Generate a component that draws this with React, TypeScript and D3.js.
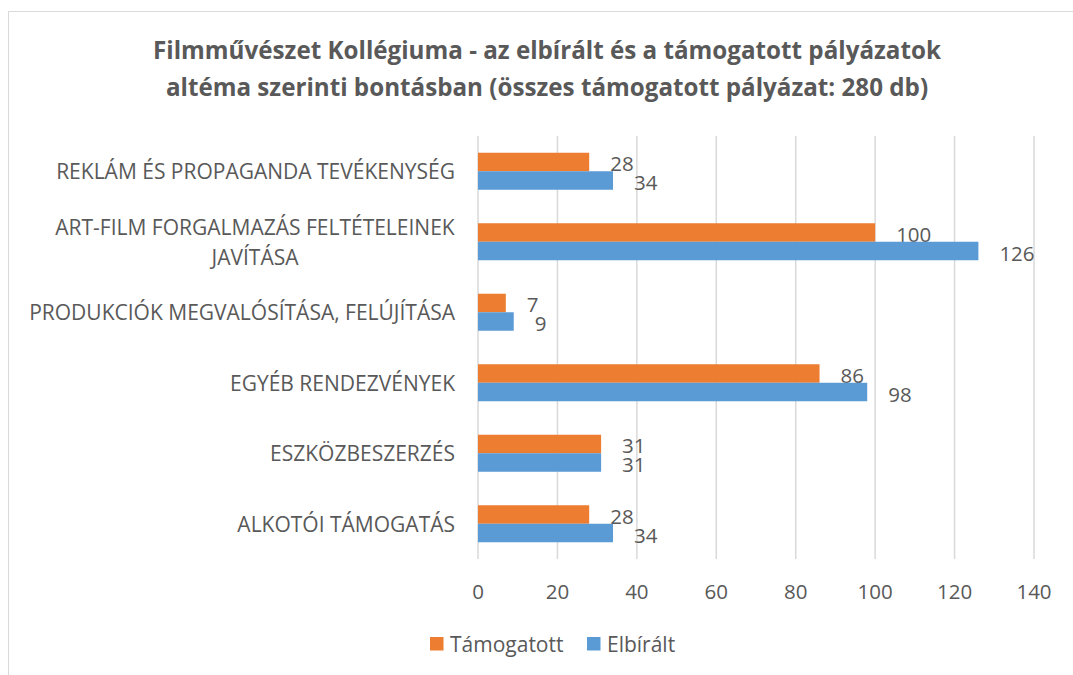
import React from "react";
import * as d3 from "d3";

const title = [
  "Filmművészet Kollégiuma - az elbírált és a támogatott pályázatok",
  "altéma szerinti bontásban (összes támogatott pályázat: 280 db)",
];
const categories = [
  "REKLÁM ÉS PROPAGANDA TEVÉKENYSÉG",
  "ART-FILM FORGALMAZÁS FELTÉTELEINEK JAVÍTÁSA",
  "PRODUKCIÓK MEGVALÓSÍTÁSA, FELÚJÍTÁSA",
  "EGYÉB RENDEZVÉNYEK",
  "ESZKÖZBESZERZÉS",
  "ALKOTÓI TÁMOGATÁS",
];
const categoryLines = [
  ["REKLÁM ÉS PROPAGANDA TEVÉKENYSÉG"],
  ["ART-FILM FORGALMAZÁS FELTÉTELEINEK", "JAVÍTÁSA"],
  ["PRODUKCIÓK MEGVALÓSÍTÁSA, FELÚJÍTÁSA"],
  ["EGYÉB RENDEZVÉNYEK"],
  ["ESZKÖZBESZERZÉS"],
  ["ALKOTÓI TÁMOGATÁS"],
];
const tamogatott = [28, 100, 7, 86, 31, 28];
const elbiralt = [34, 126, 9, 98, 31, 34];
const seriesNames = ["Támogatott", "Elbírált"];
const seriesColors = ["#ED7D31", "#5B9BD5"];
const xTicks = [0, 20, 40, 60, 80, 100, 120, 140];

const W = 1073;
const H = 675;
const FONT = "'Open Sans', 'Noto Sans', sans-serif";
const TEXT = "#595959";

export default function App() {
  const x = d3.scaleLinear().domain([0, 140]).range([478, 1034]);
  const y = d3
    .scaleBand<string>()
    .domain(categories)
    .range([136, 559])
    .paddingInner(0.475)
    .paddingOuter(0.2375);
  const sub = d3
    .scaleBand<string>()
    .domain(seriesNames)
    .range([0, y.bandwidth()]);
  const series = [tamogatott, elbiralt];

  return (
    <div style={{ position: "absolute", left: 0, top: 0 }}>
      <svg width={W} height={H} style={{ display: "block", fontFamily: FONT }}>
        <rect x={0} y={0} width={W} height={H} fill="#fff" />
        <rect
          x={8.5}
          y={11.5}
          width={W + 20}
          height={H + 20}
          fill="none"
          stroke="#D9D9D9"
          strokeWidth={1}
        />
        {title.map((t, i) => (
          <text
            key={i}
            x={547}
            y={59 + i * 37}
            textAnchor="middle"
            fontSize={24.2}
            fontWeight="bold"
            fill={TEXT}
          >
            {t}
          </text>
        ))}
        {xTicks.map((t) => (
          <g key={t}>
            <line
              x1={x(t)}
              x2={x(t)}
              y1={136}
              y2={559}
              stroke="#D9D9D9"
              strokeWidth={1.5}
            />
            <text
              x={x(t)}
              y={591}
              textAnchor="middle"
              dominantBaseline="central"
              fontSize={20.5}
              fill={TEXT}
            >
              {t}
            </text>
          </g>
        ))}
        {categories.map((c, ci) => {
          const yc = (y(c) as number) + y.bandwidth() / 2;
          const lines = categoryLines[ci];
          return (
            <g key={c}>
              {lines.length === 1 ? (
                <text
                  x={455}
                  y={yc}
                  textAnchor="end"
                  dominantBaseline="central"
                  fontSize={21}
                  fill={TEXT}
                >
                  {lines[0]}
                </text>
              ) : (
                lines.map((l, li) => (
                  <text
                    key={li}
                    x={255}
                    y={yc + (li - (lines.length - 1) / 2) * 30}
                    textAnchor="middle"
                    dominantBaseline="central"
                    fontSize={21}
                    fill={TEXT}
                  >
                    {l}
                  </text>
                ))
              )}
              {series.map((vals, si) => {
                const by = (y(c) as number) + (sub(seriesNames[si]) as number);
                const v = vals[ci];
                return (
                  <g key={si}>
                    <rect
                      x={x(0)}
                      y={by}
                      width={x(v) - x(0)}
                      height={sub.bandwidth()}
                      fill={seriesColors[si]}
                    />
                    <text
                      x={x(v) + 21}
                      y={by + sub.bandwidth() / 2 + 1.5}
                      dominantBaseline="central"
                      fontSize={20.5}
                      fill={TEXT}
                    >
                      {v}
                    </text>
                  </g>
                );
              })}
            </g>
          );
        })}
        {seriesNames.map((s, i) => {
          const lx = [430, 587][i];
          return (
            <g key={s}>
              <rect x={lx} y={637} width={13.5} height={13.5} fill={seriesColors[i]} />
              <text
                x={lx + 20}
                y={643.5}
                dominantBaseline="central"
                fontSize={21}
                fill={TEXT}
              >
                {s}
              </text>
            </g>
          );
        })}
      </svg>
    </div>
  );
}
